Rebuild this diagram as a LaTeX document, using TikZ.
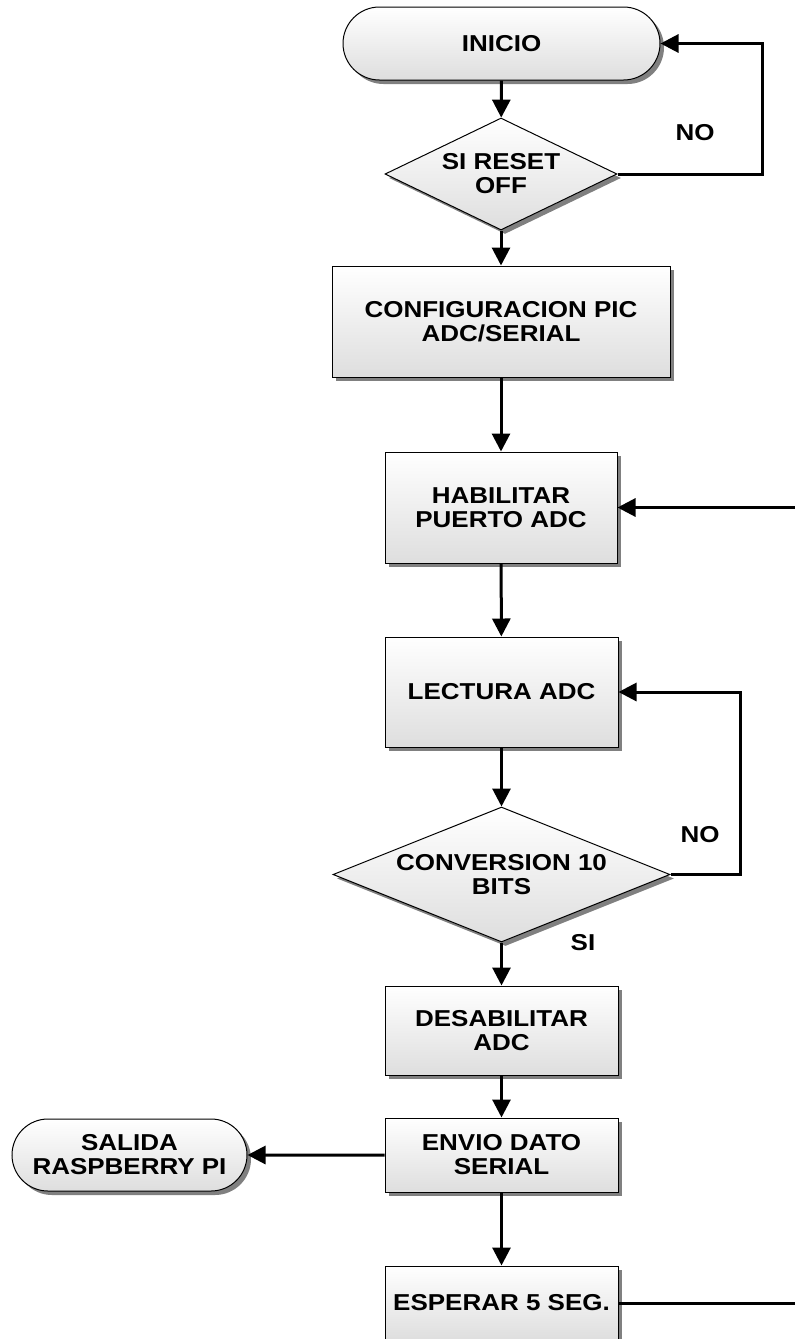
\documentclass[tikz,border=0pt]{standalone}
\usepackage{fontspec}
\setmainfont{Liberation Sans}[FakeStretch=1.13]
\usepackage{tikz}
\usetikzlibrary{shapes.geometric,shapes.misc,shadows,arrows.meta}

\begin{document}
\begin{tikzpicture}[x=1pt, y=-1pt,
	every node/.style={font=\fontsize{23}{24}\selectfont\bfseries, align=center, inner sep=0pt},
	box/.style={draw, line width=1pt, top color=white, bottom color=black!13,
		drop shadow={shadow xshift=4pt, shadow yshift=-4pt, fill=black!50, opacity=1}},
	proc/.style={box, rectangle},
	term/.style={box, rounded rectangle},
	dec/.style={box, diamond},
	flow/.style={line width=3pt, -{Triangle[length=18pt, width=18pt]}}]
	\useasboundingbox (0,0) rectangle (795,1339);
	\clip (0,0) rectangle (795,1339);
	
	% nodes
	\node[term, minimum width=317pt, minimum height=73pt] (inicio) at (501.5,43.5) {INICIO};
	\node[dec, shape aspect=2.07, minimum width=232pt, minimum height=112pt] (reset) at (501,174) {SI RESET\\OFF};
	\node[proc, minimum width=338pt, minimum height=111pt] (config) at (501,321.5) {CONFIGURACION PIC\\ADC/SERIAL};
	\node[proc, minimum width=232pt, minimum height=111pt] (habilitar) at (501,507.5) {HABILITAR\\PUERTO ADC};
	\node[proc, minimum width=233pt, minimum height=110pt] (lectura) at (501.5,692) {LECTURA ADC};
	\node[dec, shape aspect=2.5, minimum width=337pt, minimum height=135pt] (conversion) at (501.5,874.5) {CONVERSION 10\\BITS};
	\node[proc, minimum width=233pt, minimum height=89pt] (desabilitar) at (501.5,1030.5) {DESABILITAR\\ADC};
	\node[proc, minimum width=233pt, minimum height=74pt] (envio) at (501.5,1155) {ENVIO DATO\\SERIAL};
	\node[proc, minimum width=233pt, minimum height=74pt] (esperar) at (501.5,1303) {ESPERAR 5 SEG.};
	\node[term, minimum width=235pt, minimum height=72pt] (salida) at (129.5,1155) {SALIDA\\RASPBERRY PI};
	
	\node (no1) at (695,133) {NO};
	\node (no2) at (700,835) {NO};
	\node (si) at (583,943) {SI};
	
	\coordinate (loopA) at (762,174);
	\coordinate (loopB) at (740,874.5);
	\coordinate (loopC) at (812,1303);
	
	% connectors
	\draw[flow] (inicio) -- (reset);
	\draw[flow] (reset.east) -- (loopA) |- (inicio.east);
	\draw[flow] (reset) -- (config);
	\draw[flow] (config) -- (habilitar);
	\draw[flow] (habilitar) -- (lectura);
	\draw[flow] (lectura) -- (conversion);
	\draw[flow] (conversion.east) -- (loopB) |- (lectura.east);
	\draw[flow] (conversion) -- (desabilitar);
	\draw[flow] (desabilitar) -- (envio);
	\draw[flow] (envio) -- (salida);
	\draw[flow] (envio) -- (esperar);
	\draw[flow] (esperar.east) -- (loopC) |- (habilitar.east);
\end{tikzpicture}
\end{document}
